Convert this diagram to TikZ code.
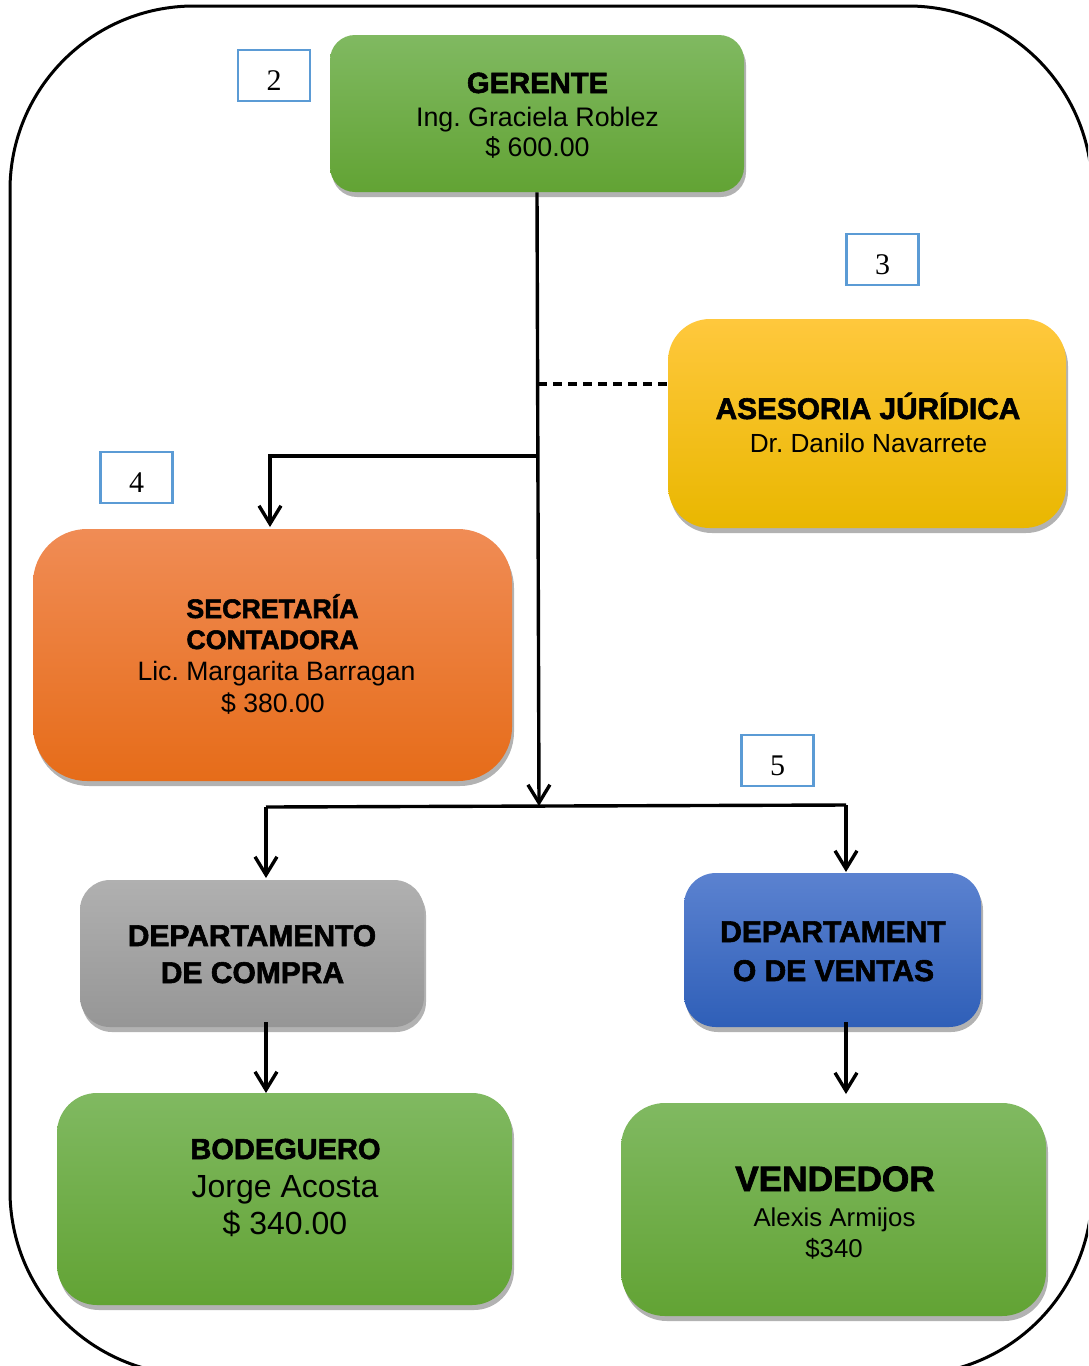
\documentclass[tikz,border=0pt]{standalone}
\usepackage{fontspec}
\setmainfont{Liberation Sans}
\newfontfamily\heavy[BoldFeatures={FakeBold=2}]{Liberation Sans}
\newfontfamily\numfont{Liberation Serif}
\usetikzlibrary{arrows.meta,shadows}
\definecolor{grTop}{RGB}{128,185,97}
\definecolor{grBot}{RGB}{98,163,52}
\definecolor{yeTop}{RGB}{255,200,61}
\definecolor{yeBot}{RGB}{233,183,0}
\definecolor{orTop}{RGB}{240,140,85}
\definecolor{orBot}{RGB}{230,108,25}
\definecolor{gyTop}{RGB}{176,176,176}
\definecolor{gyBot}{RGB}{150,150,150}
\definecolor{blTop}{RGB}{91,130,208}
\definecolor{blBot}{RGB}{47,95,184}
\definecolor{numBlue}{RGB}{91,155,213}
\frenchspacing
\tikzset{
  card/.style={draw=none, inner sep=0pt,
    drop shadow={shadow xshift=1pt, shadow yshift=-2.5pt, fill=black, opacity=0.3}},
  greencard/.style={card, top color=grTop, bottom color=grBot},
  numbox/.style={draw=numBlue, line width=1.2pt, fill=white, inner sep=0pt,
    minimum width=36pt, minimum height=25.5pt, font=\numfont\fontsize{15}{15}\selectfont,
    text height=14.5pt, text depth=0pt},
  ln/.style={anchor=base, inner sep=0pt},
  conn/.style={line width=1.7pt, black},
  arr/.style={conn, -{Straight Barb[length=9pt,width=11pt]}},
}
\newcommand{\hd}[1]{\fontsize{#1}{#1}\heavy\bfseries}
\newcommand{\rg}[1]{\fontsize{#1}{#1}\selectfont}
\begin{document}
\begin{tikzpicture}[x=0.5pt,y=-0.5pt]
\useasboundingbox (0,0) rectangle (1088,1366);
\clip (0,0) rectangle (1088,1366);
\fill[white] (0,0) rectangle (1088,1366);
% outer frame
\draw[line width=1.5pt, rounded corners=92pt] (10,6) rectangle (1092,1375);

% boxes
\node[greencard, rounded corners=12.5pt, minimum width=207pt, minimum height=78.5pt] (ger) at (537,113.5) {};
\node[card, top color=yeTop, bottom color=yeBot, rounded corners=21pt, minimum width=199pt, minimum height=104.5pt] (ase) at (867,423.5) {};
\node[card, top color=orTop, bottom color=orBot, rounded corners=27pt, minimum width=239.5pt, minimum height=126pt] (sec) at (272.5,655) {};
\node[card, top color=gyTop, bottom color=gyBot, rounded corners=15pt, minimum width=172pt, minimum height=73.5pt] (com) at (252,953.5) {};
\node[card, top color=blTop, bottom color=blBot, rounded corners=16pt, minimum width=148.5pt, minimum height=77pt] (ven) at (832.5,950) {};
\node[greencard, rounded corners=20pt, minimum width=227.5pt, minimum height=106pt] (bod) at (284.5,1199) {};
\node[greencard, rounded corners=22pt, minimum width=212.5pt, minimum height=106.5pt] (vdr) at (833.5,1209.5) {};

% texts
\node[ln, font=\hd{14.6}] (ger1) at (537.5,93) {GERENTE};
\node[ln, font=\rg{13.4}] (ger2) at (537.5,126) {Ing. Graciela Roblez};
\node[ln, font=\rg{13.4}] (ger3) at (537.5,156) {\$ 600.00};

\node[ln, font=\hd{14.9}] (ase1) at (868,419) {ASESORIA JÚRÍDICA};
\node[ln, font=\rg{13.1}] (ase2) at (868.5,452) {Dr. Danilo Navarrete};

\node[ln, font=\hd{13.4}] (sec1) at (272.5,618) {SECRETARÍA};
\node[ln, font=\hd{13.4}] (sec2) at (272.5,649) {CONTADORA};
\node[ln, font=\rg{13.3}] (sec3) at (276.5,680) {Lic. Margarita Barragan};
\node[ln, font=\rg{13.3}] (sec4) at (273,712) {\$ 380.00};

\node[ln, font=\hd{15}] (com1) at (252,946) {DEPARTAMENTO};
\node[ln, font=\hd{15}] (com2) at (252.5,983) {DE COMPRA};

\node[ln, font=\hd{15}] (ven1) at (833,942) {DEPARTAMENT};
\node[ln, font=\hd{15}] (ven2) at (833.5,981) {O DE VENTAS};

\node[ln, font=\hd{14.5}] (bod1) at (285.5,1159) {BODEGUERO};
\node[ln, font=\rg{16}] (bod2) at (285,1197) {Jorge Acosta};
\node[ln, font=\rg{16}] (bod3) at (285,1234) {\$ 340.00};

\node[ln, font=\hd{17.6}] (vdr1) at (835,1191) {VENDEDOR};
\node[ln, font=\rg{12.9}] (vdr2) at (834.5,1226) {Alexis Armijos};
\node[ln, font=\rg{12.9}] (vdr3) at (834,1257) {\$340};

% number boxes
\node[numbox] (n2) at (274,75.5) {2};
\node[numbox] (n3) at (882.5,259.5) {3};
\node[numbox] (n4) at (136.5,477.5) {4};
\node[numbox] (n5) at (777.5,760.5) {5};

% connectors
\coordinate (j1) at (539,806);
\coordinate (b1) at (537,456);
\coordinate (d1) at (538,384);
\coordinate (h1) at (266,807);
\coordinate (h2) at (846,805);
\coordinate (c1) at (266,1022);
\coordinate (c2) at (266,1093);
\coordinate (v1) at (846,1022);
\coordinate (v2) at (846,1094);

\draw[arr] (ger.south) -- (j1);
\draw[conn, dash pattern=on 4.5pt off 3pt] (d1) -- (d1 -| ase.west);
\draw[arr] (b1) -- (270,456) -- (270,527);
\draw[conn] (h1) -- (h2);
\draw[arr] (h1) -- (266,878);
\draw[arr] (h2) -- (846,872);
\draw[arr] (c1) -- (c2);
\draw[arr] (v1) -- (v2);
\end{tikzpicture}
\end{document}
